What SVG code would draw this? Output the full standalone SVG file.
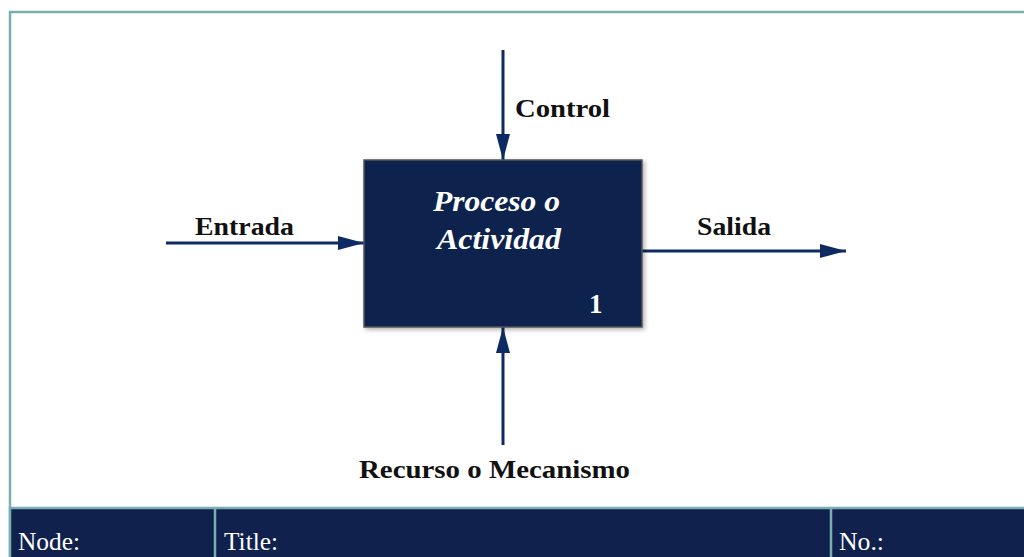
<svg xmlns="http://www.w3.org/2000/svg" width="1024" height="557" viewBox="0 0 1024 557">
<style>
.lbl{font-family:"Liberation Serif","Times New Roman",serif;font-weight:bold;font-size:25px;fill:#111}
.ft{font-family:"Liberation Serif","Times New Roman",serif;font-size:25px;fill:#fff}
.it{font-family:"Liberation Serif","Times New Roman",serif;font-style:italic;font-weight:bold;font-size:30px;fill:#fff}
.arr{stroke:#0d2a63;stroke-width:3;fill:none}
</style>
<defs>
<marker id="ah2" viewBox="0 0 10 10" refX="10" refY="5" markerWidth="26" markerHeight="14" markerUnits="userSpaceOnUse" orient="auto" preserveAspectRatio="none">
<path d="M0,0 L10,5 L0,10 Z" fill="#0d2a63"/>
</marker>
<filter id="sh" x="-10%" y="-10%" width="120%" height="120%"><feDropShadow dx="2" dy="2" stdDeviation="2" flood-color="#000" flood-opacity="0.3"/></filter>
</defs>
<rect width="1024" height="557" fill="#fff"/>
<g id="frame">
<rect x="10" y="12" width="1020" height="560" fill="none" stroke="#7aaeb3" stroke-width="2.5"/>
<rect x="10" y="508" width="1020" height="60" fill="#10214d" stroke="#7aaeb3" stroke-width="2.5"/>
<line x1="215" y1="508" x2="215" y2="557" stroke="#7aaeb3" stroke-width="2.5"/>
<line x1="831" y1="508" x2="831" y2="557" stroke="#7aaeb3" stroke-width="2.5"/>
<text class="ft" x="18" y="550" textLength="62" lengthAdjust="spacingAndGlyphs">Node:</text>
<text class="ft" x="224" y="550" textLength="54" lengthAdjust="spacingAndGlyphs">Title:</text>
<text class="ft" x="839" y="550" textLength="45" lengthAdjust="spacingAndGlyphs">No.:</text>
</g>
<g id="connectors">
<line class="arr" x1="503" y1="50" x2="503" y2="160" marker-end="url(#ah2)"/>
<line class="arr" x1="166" y1="243" x2="364" y2="243" marker-end="url(#ah2)"/>
<line class="arr" x1="642" y1="251" x2="846" y2="251" marker-end="url(#ah2)"/>
<line class="arr" x1="503" y1="445" x2="503" y2="327" marker-end="url(#ah2)"/>
<text class="lbl" x="515" y="117" textLength="95" lengthAdjust="spacingAndGlyphs">Control</text>
<text class="lbl" x="195" y="235" textLength="99" lengthAdjust="spacingAndGlyphs">Entrada</text>
<text class="lbl" x="697" y="235" textLength="74" lengthAdjust="spacingAndGlyphs">Salida</text>
<text class="lbl" x="359" y="478" textLength="271" lengthAdjust="spacingAndGlyphs">Recurso o Mecanismo</text>
</g>
<g id="node1">
<rect x="364" y="160" width="278" height="167" fill="#10214d" stroke="#555" stroke-width="1.5" filter="url(#sh)"/>
<text class="it" x="433" y="211" textLength="127" lengthAdjust="spacingAndGlyphs">Proceso o</text>
<text class="it" x="437" y="249" textLength="124" lengthAdjust="spacingAndGlyphs">Actividad</text>
<text x="589" y="313" font-family="Liberation Serif,Times New Roman,serif" font-weight="bold" font-size="27" fill="#fff">1</text>
</g>
</svg>
